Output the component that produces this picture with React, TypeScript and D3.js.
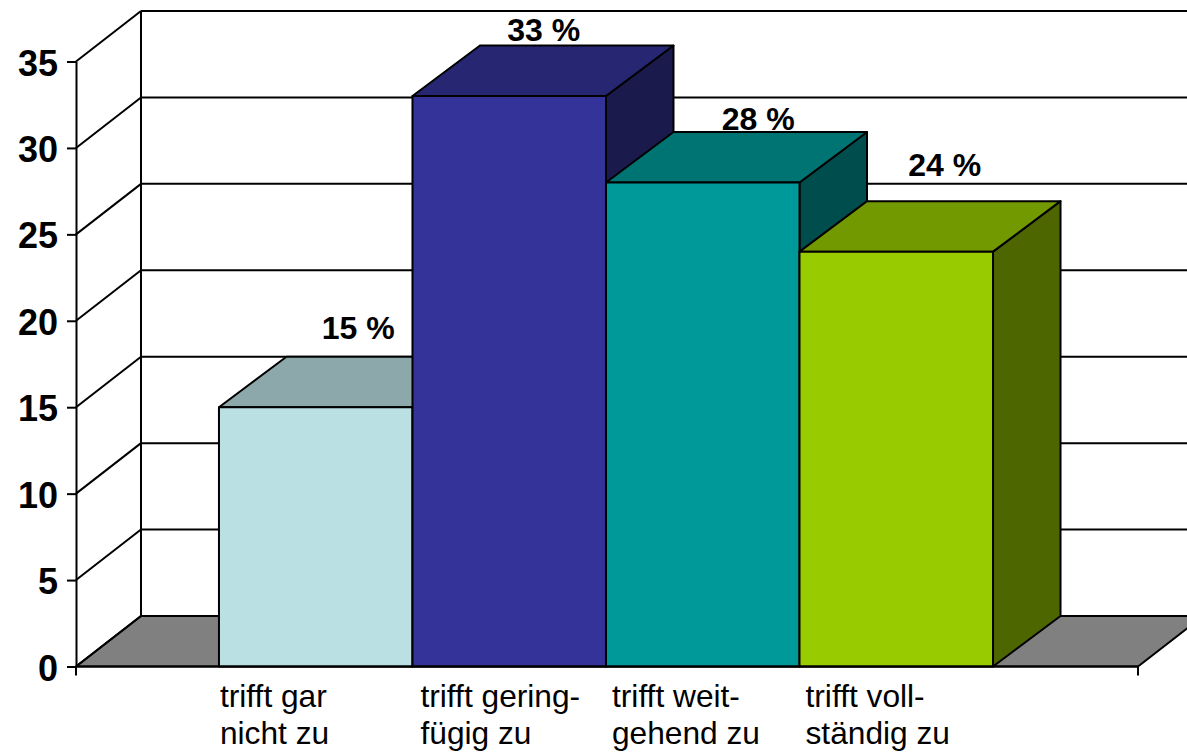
import { useEffect, useRef } from "react";
import { axisLeft, color, scaleBand, scaleLinear, select } from "d3";

const width = 1187;
const height = 756;

const categories = ["gar", "gering", "weit", "voll"];
const categoryLines = [
  ["trifft gar", "nicht zu"],
  ["trifft gering-", "fügig zu"],
  ["trifft weit-", "gehend zu"],
  ["trifft voll-", "ständig zu"],
];
const values = [15, 33, 28, 24];
const barColors = ["#BBE0E3", "#333399", "#009999", "#99CC00"];
const yTicks = [0, 5, 10, 15, 20, 25, 30, 35];

// labels were moved by hand in the original, so they don't sit at a fixed offset
const valueLabelNudgeX = [10, 2, 23, 16];
const valueLabelNudgeY = [-18, -4.5, -2, -25];
const categoryLabelNudgeX = [1, 8, 6, 6];

const left = 76;
const right = 1138;
const bottom = 666.5;
const top = 61.5;
const depthX = 65;
const barDepthX = 67.5;
const depthY = -50.5;

const x = scaleBand<string>()
  .domain(categories)
  .range([left, right])
  .paddingInner(0)
  .paddingOuter(0.744)
  .align(0.4965);
const y = scaleLinear().domain([0, 35]).range([bottom, top]);

const font = "'Liberation Sans', Arial, sans-serif";

const shade = (base: string, k: number) => {
  const c = color(base)!.rgb();
  return `rgb(${c.r * k},${c.g * k},${c.b * k})`;
};

const points = (list: number[][]) => list.map((p) => p.join(",")).join(" ");

export default function App() {
  const axisRef = useRef<SVGGElement | null>(null);

  useEffect(() => {
    const axis = axisLeft(y)
      .tickValues(yTicks)
      .tickSizeInner(9)
      .tickSizeOuter(0)
      .tickPadding(9);
    const g = select(axisRef.current);
    g.call(axis as any);
    g.select(".domain").attr("stroke", "#000").attr("stroke-width", 2);
    g.selectAll(".tick line").attr("stroke", "#000").attr("stroke-width", 2);
    g.selectAll(".tick text")
      .attr("fill", "#000")
      .attr("font-family", font)
      .attr("font-weight", "bold")
      .attr("font-size", 36)
      .attr("y", 2);
  }, []);

  return (
    <svg
      width={width}
      height={height}
      style={{ position: "absolute", left: 0, top: 0, background: "#fff" }}
    >
      {/* floor */}
      <polygon
        points={points([
          [left, bottom],
          [left + depthX, bottom + depthY],
          [right + depthX, bottom + depthY],
          [right, bottom],
        ])}
        fill="#808080"
        stroke="#000"
        strokeWidth={2}
      />

      {/* wall grid */}
      {yTicks.map((t) => (
        <g key={t} stroke="#000" strokeWidth={2}>
          <line x1={left} y1={y(t)} x2={left + depthX} y2={y(t) + depthY} />
          <line
            x1={left + depthX}
            y1={y(t) + depthY}
            x2={right + depthX}
            y2={y(t) + depthY}
          />
        </g>
      ))}
      <line
        x1={left + depthX}
        y1={y(0) + depthY}
        x2={left + depthX}
        y2={y(35) + depthY}
        stroke="#000"
        strokeWidth={2}
      />

      {/* value labels go under the bars, the 28 % gets touched by its own bar */}
      {categories.map((c, i) => (
        <text
          key={c}
          x={x(c)! + x.bandwidth() / 2 + depthX / 2 + valueLabelNudgeX[i]}
          y={y(values[i]) + depthY + valueLabelNudgeY[i]}
          textAnchor="middle"
          fontFamily={font}
          fontWeight="bold"
          fontSize={32}
        >
          {values[i]} %
        </text>
      ))}

      {categories.map((c, i) => {
        const x0 = x(c)!;
        const x1 = x0 + x.bandwidth();
        const y0 = y(values[i]);
        return (
          <g key={c} stroke="#000" strokeWidth={2} strokeLinejoin="round">
            <polygon
              points={points([
                [x1, y0],
                [x1 + barDepthX, y0 + depthY],
                [x1 + barDepthX, bottom + depthY],
                [x1, bottom],
              ])}
              fill={shade(barColors[i], 0.5)}
            />
            <polygon
              points={points([
                [x0, y0],
                [x0 + barDepthX, y0 + depthY],
                [x1 + barDepthX, y0 + depthY],
                [x1, y0],
              ])}
              fill={shade(barColors[i], 0.75)}
            />
            <rect
              x={x0}
              y={y0}
              width={x.bandwidth()}
              height={bottom - y0}
              fill={barColors[i]}
            />
          </g>
        );
      })}

      {/* front edge + end ticks */}
      <line x1={left} y1={bottom} x2={right} y2={bottom} stroke="#000" strokeWidth={2} />
      {[left, right].map((px) => (
        <line key={px} x1={px} y1={bottom} x2={px} y2={bottom + 9} stroke="#000" strokeWidth={2} />
      ))}
      <g ref={axisRef} transform={`translate(${left},0)`} />

      {categories.map((c, i) => (
        <text
          key={c}
          fontFamily={font}
          fontSize={31.7}
          fill="#000"
        >
          {categoryLines[i].map((line, j) => (
            <tspan key={line} x={x(c)! + categoryLabelNudgeX[i]} y={707 + j * 37}>
              {line}
            </tspan>
          ))}
        </text>
      ))}
    </svg>
  );
}
